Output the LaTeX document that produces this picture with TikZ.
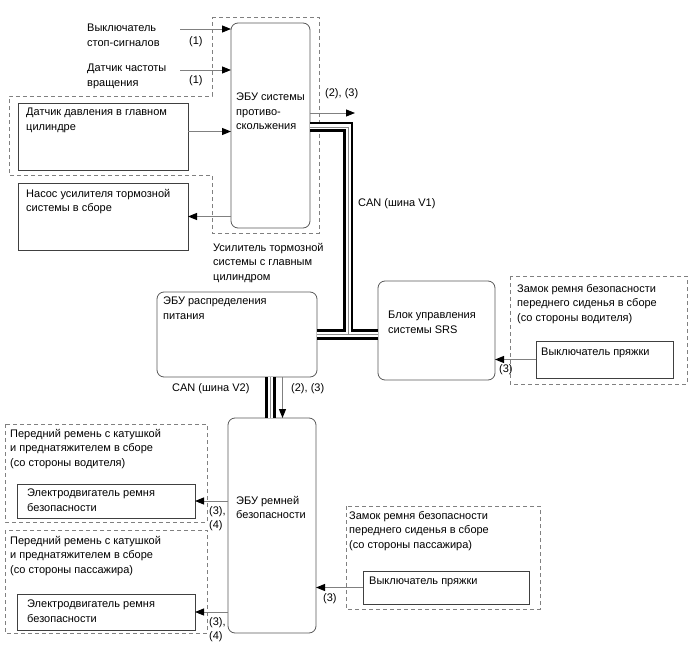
\documentclass[tikz,border=0pt]{standalone}
\usepackage{fontspec}
\setmainfont{Liberation Sans}
\usetikzlibrary{arrows.meta}
\tikzset{ecu/.style={draw=black!65,rounded corners=7pt,line width=0.8pt,anchor=north west,inner sep=0pt,outer sep=0pt},
  unit/.style={draw=black!75,line width=0.8pt,anchor=north west,inner sep=0pt,outer sep=0pt},
  grp/.style={draw=black!50,dash pattern=on 4pt off 3pt,line width=0.8pt},
  txt/.style={anchor=north west,inner sep=0pt,align=left,font=\fontsize{11}{14.5}\selectfont},
  sig/.style={draw=black!50,line width=0.9pt,-{Triangle[length=9pt,width=7pt,color=black]}}}

\begin{document}
\begin{tikzpicture}[x=1pt,y=-1pt]
\useasboundingbox (0,0) rectangle (688,658);
% groups
\draw[grp] (212,17) -- (319,17) -- (319,233) -- (212,233) -- (212,175) -- (9,175) -- (9,96) -- (212,96) -- cycle;
\draw[grp] (510,276) rectangle (687,384);
\draw[grp] (5,424) rectangle (207,522);
\draw[grp] (5,530) rectangle (207,633);
\draw[grp] (346,506) rectangle (540,609);
% boxes
\node[ecu,minimum width=79pt,minimum height=205pt] (esc) at (231,23) {};
\node[unit,minimum width=170pt,minimum height=67pt] (mcs) at (18,103) {};
\node[unit,minimum width=170pt,minimum height=67pt] (pump) at (18,183) {};
\node[ecu,minimum width=160pt,minimum height=85pt] (pdu) at (157,292) {};
\node[ecu,minimum width=117pt,minimum height=99pt] (srs) at (378,281) {};
\node[unit,minimum width=137pt,minimum height=37pt] (bkd) at (536,341) {};
\node[ecu,minimum width=88pt,minimum height=215pt] (sbe) at (228,418) {};
\node[unit,minimum width=178pt,minimum height=34pt] (mtd) at (17,484) {};
\node[unit,minimum width=178pt,minimum height=36pt] (mtp) at (17,594) {};
\node[unit,minimum width=166pt,minimum height=33pt] (bkp) at (363,571) {};
% texts
\node[txt] (bsw) at (87,24) {Выключатель\\стоп-сигналов};
\node[txt] (spd) at (87,64) {Датчик частоты\\вращения};
\node[txt] (n1a) at (189,36) {(1)};
\node[txt] (n1b) at (189,75) {(1)};
\node[txt] (esctxt) at (236,93) {ЭБУ системы\\противо-\\скольжения};
\node[txt] (n23a) at (325,88) {(2), (3)};
\node[txt] (mcstxt) at (26,108) {Датчик давления в главном\\цилиндре};
\node[txt] (pumptxt) at (26,189) {Насос усилителя тормозной\\системы в сборе};
\node[txt] (bstlbl) at (213,243) {Усилитель тормозной\\системы с главным\\цилиндром};
\node[txt] (canv1) at (358,198) {CAN (шина V1)};
\node[txt] (pdutxt) at (163,297) {ЭБУ распределения\\питания};
\node[txt] (srstxt) at (388,311) {Блок управления\\системы SRS};
\node[txt] (bkdlbl) at (517,284) {Замок ремня безопасности\\переднего сиденья в сборе\\(со стороны водителя)};
\node[txt] (bkdtxt) at (541,348) {Выключатель пряжки};
\node[txt] (n3a) at (499,364) {(3)};
\node[txt] (canv2) at (172,383) {CAN (шина V2)};
\node[txt] (n23b) at (291,383) {(2), (3)};
\node[txt] (rtdlbl) at (10,429) {Передний ремень с катушкой\\и преднатяжителем в сборе\\(со стороны водителя)};
\node[txt] (mtdtxt) at (27,489) {Электродвигатель ремня\\безопасности};
\node[txt] (sbetxt) at (236,496) {ЭБУ ремней\\безопасности};
\node[txt,font=\fontsize{11}{14}\selectfont] (n34a) at (209,506) {(3),\\(4)};
\node[txt] (rtplbl) at (10,536) {Передний ремень с катушкой\\и преднатяжителем в сборе\\(со стороны пассажира)};
\node[txt] (mtptxt) at (27,600) {Электродвигатель ремня\\безопасности};
\node[txt,font=\fontsize{11}{14}\selectfont] (n34b) at (209,617) {(3),\\(4)};
\node[txt] (bkplbl) at (349,511) {Замок ремня безопасности\\переднего сиденья в сборе\\(со стороны пассажира)};
\node[txt] (bkptxt) at (369,577) {Выключатель пряжки};
\node[txt] (n3b) at (323,593) {(3)};
% CAN buses
\coordinate (v1) at (348,127);
\coordinate (v2) at (270.5,0);
\foreach \w/\c in {10.5pt/black,5pt/white,0.8pt/black!45}
  \draw[line width=\w,draw=\c] (esc.east |- v1) -- (v1) -- (v1 |- pdu.east) (pdu.east) -- (pdu.east -| srs.west)
    (pdu.south -| v2) -- (sbe.north -| v2);
% signals
\coordinate (bswo) at (180,29);
\coordinate (spdo) at (180,70);
\coordinate (mcso) at ([yshift=5pt]mcs.east);
\coordinate (esco) at (355,113);
\coordinate (v2a) at (282.5,0);
\draw[sig] (bswo) -- (bswo -| esc.west);
\draw[sig] (spdo) -- (spdo -| esc.west);
\draw[sig] (mcso) -- (mcso -| esc.west);
\draw[sig] (pump.east -| esc.west) -- (pump.east);
\draw[sig] (esco -| esc.east) -- (esco);
\draw[sig] (bkd.west) -- (bkd.west -| srs.east);
\draw[sig] (pdu.south -| v2a) -- (sbe.north -| v2a);
\draw[sig] (mtd.east -| sbe.west) -- (mtd.east);
\draw[sig] (mtp.east -| sbe.west) -- (mtp.east);
\draw[sig] (bkp.west) -- (bkp.west -| sbe.east);
\end{tikzpicture}
\end{document}
